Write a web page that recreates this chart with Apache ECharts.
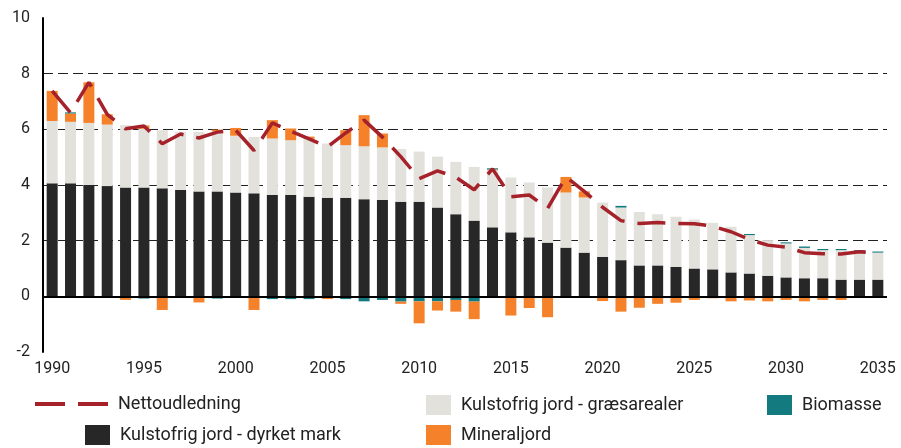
<!DOCTYPE html>
<html>
<head>
<meta charset="utf-8">
<script src="https://cdn.jsdelivr.net/npm/echarts@6/dist/echarts.min.js"></script>
<style>
html,body{margin:0;padding:0;background:#fff;}
#c{width:901px;height:448px;}
</style>
</head>
<body>
<div id="c"></div>
<script>
var years = [];
for (var y = 1990; y <= 2035; y++) years.push(String(y));

var dyrketMark = [4.06,4.06,4.00,3.96,3.91,3.91,3.88,3.82,3.77,3.77,3.73,3.70,3.64,3.64,3.58,3.54,3.54,3.49,3.46,3.40,3.40,3.19,2.95,2.72,2.48,2.30,2.12,1.93,1.75,1.57,1.42,1.30,1.11,1.11,1.06,1.00,0.97,0.86,0.82,0.74,0.68,0.65,0.65,0.60,0.60,0.60];
var graesarealer = [2.24,2.21,2.23,2.21,2.24,2.11,2.09,2.09,2.14,2.16,2.04,2.03,2.03,1.97,2.08,1.95,1.89,1.90,1.89,1.89,1.80,1.83,1.88,1.93,2.05,1.97,1.97,1.98,1.98,1.98,1.95,1.89,1.92,1.84,1.80,1.76,1.67,1.64,1.38,1.28,1.22,1.09,1.01,1.06,1.02,0.97];
var mineraljord = [1.08,0.30,1.46,0.37,-0.13,0.12,-0.49,-0.06,-0.22,0.06,0.28,-0.49,0.66,0.42,0.08,-0.10,0.54,1.12,0.50,-0.08,-0.79,-0.33,-0.42,-0.63,0.03,-0.69,-0.42,-0.75,0.56,0.22,-0.17,-0.55,-0.41,-0.27,-0.23,-0.13,-0.07,-0.18,-0.15,-0.18,-0.13,-0.18,-0.13,-0.13,0,0];
var biomasse = [0,0.04,0,0,0,-0.08,0,0,0,-0.08,-0.06,0,-0.10,-0.10,-0.10,0,-0.10,-0.18,-0.13,-0.19,-0.18,-0.18,-0.13,-0.19,0.04,0,0,0,0,0,0,0.06,0,0,0,0,0,0,0.04,0,0.04,0.05,0.04,0.04,0.04,0.04];
var nettoudledning = [7.38,6.60,7.69,6.54,6.02,6.12,5.48,5.83,5.69,5.90,5.97,5.24,6.23,5.93,5.66,5.37,5.87,6.33,5.72,5.02,4.23,4.51,4.28,3.83,4.58,3.58,3.64,3.16,4.29,3.77,3.20,2.72,2.62,2.65,2.62,2.61,2.52,2.32,2.04,1.84,1.77,1.57,1.53,1.52,1.60,1.55];
var yTicks = {min: -2, max: 10, interval: 2};

var C_BLACK = '#272727', C_GREY = '#e3e1dc', C_ORANGE = '#f5822b', C_TEAL = '#137b80', C_RED = '#a6222a';
var FONT = 'Roboto';

var bioPos = biomasse.map(function(v){ return v > 0 ? v : 0; });
var bioNeg = biomasse.map(function(v){ return v < 0 ? v : 0; });

function barSeries(name, data, color) {
  return {
    name: name, type: 'bar', stack: 'tot', data: data, barWidth: 11,
    itemStyle: {color: color}, emphasis: {disabled: true}
  };
}

var legendText = {fontFamily: FONT, fontSize: 18, color: '#222', padding: [0,0,0,5]};
function lg(name, left, top, w, h, icon, color) {
  var o = {
    data: [name], left: left, top: top, itemWidth: w || 25, itemHeight: h || 20,
    textStyle: legendText, selectedMode: false, padding: 0, icon: icon || 'rect'
  };
  if (color) { o.itemStyle = {color: color, borderWidth: 0}; }
  return o;
}

var chart = echarts.init(document.getElementById('c'), null, {renderer: 'canvas'});
chart.setOption({
  animation: false,
  backgroundColor: '#fff',
  grid: {left: 43, right: 14, top: 18, bottom: 96, containLabel: false},
  legend: [
    lg('Nettoudledning', 35, 395, 73, 4, 'path://M0,0H30V4H0Z M43,0H73V4H43Z', C_RED),
    lg('Kulstofrig jord - græsarealer', 426, 395),
    lg('Biomasse', 767, 395),
    lg('Kulstofrig jord - dyrket mark', 85, 425),
    lg('Mineraljord', 426, 425)
  ],
  xAxis: {
    type: 'category', data: years, boundaryGap: true,
    axisLine: {show: false, onZero: false},
    axisTick: {show: false},
    axisLabel: {interval: 4, fontFamily: FONT, fontSize: 16, color: '#222', margin: 9}
  },
  yAxis: {
    type: 'value', min: yTicks.min, max: yTicks.max, interval: yTicks.interval,
    axisLine: {show: true, lineStyle: {color: '#000', width: 2}},
    axisTick: {show: false},
    axisLabel: {fontFamily: FONT, fontSize: 16, color: '#222', margin: 13},
    splitLine: {show: true, showMinLine: false, showMaxLine: false,
      lineStyle: {color: '#222', width: 1, type: [10, 5]}}
  },
  series: [
    barSeries('Kulstofrig jord - dyrket mark', dyrketMark, C_BLACK),
    barSeries('Kulstofrig jord - græsarealer', graesarealer, C_GREY),
    barSeries('Biomasse', bioNeg, C_TEAL),
    barSeries('Mineraljord', mineraljord, C_ORANGE),
    Object.assign(barSeries('Biomasse', bioPos, C_TEAL), {
      markLine: {
        silent: true, symbol: 'none', label: {show: false},
        lineStyle: {color: '#000', width: 2, type: 'solid'},
        data: [{yAxis: 0}]
      }
    }),
    {
      name: 'Nettoudledning', type: 'line', data: nettoudledning,
      symbol: 'none', smooth: false, z: 5,
      lineStyle: {color: C_RED, width: 3.5, type: [28, 13]},
      itemStyle: {color: C_RED},
      emphasis: {disabled: true}
    }
  ]
});
</script>
</body>
</html>
